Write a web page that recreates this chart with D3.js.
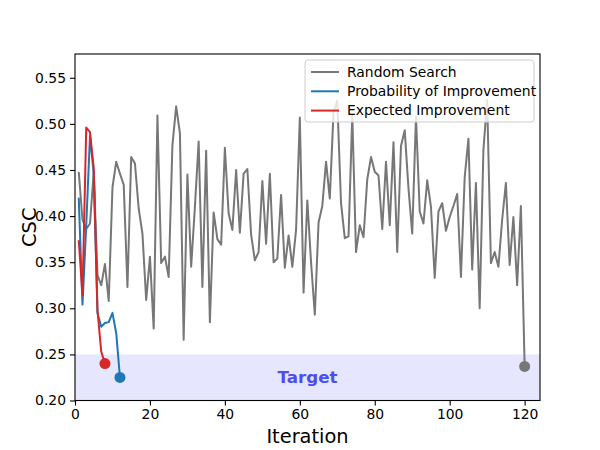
<!DOCTYPE html>
<html><head><meta charset="utf-8">
<script src="https://cdn.jsdelivr.net/npm/d3@7"></script>
<style>body{margin:0;background:#fff}svg{display:block}text{font-family:"DejaVu Sans",sans-serif}</style>
</head><body>
<svg id="c" width="600" height="450"></svg>
<script>
const randomSearch = [0.448,0.396,0.386,0.392,0.448,0.336,0.325,0.348,0.308,0.431,
0.459,0.446,0.434,0.323,0.464,0.457,0.408,0.381,0.309,0.356,
0.278,0.509,0.349,0.356,0.334,0.477,0.519,0.490,0.266,0.445,
0.345,0.410,0.481,0.323,0.471,0.285,0.404,0.375,0.369,0.474,
0.403,0.385,0.450,0.382,0.446,0.451,0.380,0.352,0.361,0.438,
0.370,0.446,0.350,0.354,0.423,0.344,0.379,0.345,0.385,0.507,
0.317,0.417,0.350,0.293,0.393,0.411,0.459,0.419,0.513,0.525,
0.414,0.376,0.378,0.510,0.361,0.390,0.377,0.440,0.464,0.448,
0.444,0.386,0.459,0.390,0.480,0.361,0.476,0.493,0.430,0.381,
0.508,0.405,0.392,0.439,0.410,0.333,0.405,0.414,0.384,0.399,
0.411,0.424,0.334,0.442,0.484,0.342,0.436,0.300,0.472,0.526,
0.349,0.361,0.345,0.396,0.436,0.347,0.399,0.325,0.411,0.237];
const probImprovement = [0.420,0.304,0.390,0.487,0.446,0.295,0.280,0.284,0.285,0.295,0.273,0.225];
const expImprovement = [0.374,0.314,0.496,0.491,0.452,0.298,0.253,0.240];
const seriesNames = ["Random Search","Probability of Improvement","Expected Improvement"];
const seriesColors = ["#777777","#1f77b4","#d62728"];
const xTicks = [0,20,40,60,80,100,120];
const yTicks = [0.20,0.25,0.30,0.35,0.40,0.45,0.50,0.55];
const targetBand = [0.20,0.25];
const targetLabel = "Target";
const xLabel = "Iteration", yLabel = "CSC";

const svg = d3.select("#c");
const L=75,R=540,T=54,B=400.5;
const x = d3.scaleLinear().domain([0,124.1]).range([L,R]);
const y = d3.scaleLinear().domain([0.2,0.5758]).range([B,T]);

const plot = svg.append("g");
plot.append("rect").attr("x",L).attr("width",R-L)
  .attr("y",y(targetBand[1])).attr("height",y(targetBand[0])-y(targetBand[1]))
  .attr("fill","rgb(230,230,255)");
plot.append("text").attr("x",(L+R)/2).attr("y",y((targetBand[0]+targetBand[1])/2))
  .attr("dy","0.35em").attr("text-anchor","middle").attr("font-weight","bold")
  .attr("font-size","16.7px").attr("fill","#4d4df0").text(targetLabel);

const all = [randomSearch, probImprovement, expImprovement];
const line = d3.line().x((d,i)=>x(i+1)).y(d=>y(d));
all.forEach((s,k)=>{
  plot.append("path").datum(s).attr("d",line).attr("fill","none")
    .attr("stroke",seriesColors[k]).attr("stroke-width",2).attr("stroke-linejoin","round");
});
all.forEach((s,k)=>{
  plot.append("circle").attr("cx",x(s.length)).attr("cy",y(s[s.length-1]))
    .attr("r",5.5).attr("fill",seriesColors[k]);
});

// axes
const ax = svg.append("g").attr("transform",`translate(0,${B})`)
  .call(d3.axisBottom(x).tickValues(xTicks).tickFormat(d3.format("d")).tickSize(5).tickPadding(4).tickSizeOuter(0));
const ay = svg.append("g").attr("transform",`translate(${L},0)`)
  .call(d3.axisLeft(y).tickValues(yTicks).tickFormat(d3.format(".2f")).tickSize(5).tickPadding(4).tickSizeOuter(0));
[ax,ay].forEach(a=>{
  a.select(".domain").remove();
  a.selectAll("text").attr("font-size","13.9px").attr("fill","#000").attr("font-family","DejaVu Sans");
  a.selectAll("line").attr("stroke","#000").attr("stroke-width",1.1);
});
svg.append("rect").attr("x",L).attr("y",T).attr("width",R-L).attr("height",B-T)
  .attr("fill","none").attr("stroke","#000").attr("stroke-width",1.1);

svg.append("text").attr("x",(L+R)/2).attr("y",443).attr("text-anchor","middle")
  .attr("font-size","19.4px").text(xLabel);
svg.append("text").attr("transform",`translate(36,${(T+B)/2}) rotate(-90)`)
  .attr("text-anchor","middle").attr("font-size","19.4px").text(yLabel);

// legend
const lg = svg.append("g");
lg.append("rect").attr("x",305).attr("y",60).attr("width",229).attr("height",62)
  .attr("rx",3).attr("fill","#fff").attr("fill-opacity",0.8).attr("stroke","#ccc").attr("stroke-width",1);
seriesNames.forEach((n,k)=>{
  const yy = 72 + k*19.3;
  lg.append("line").attr("x1",311).attr("x2",339).attr("y1",yy).attr("y2",yy)
    .attr("stroke",seriesColors[k]).attr("stroke-width",2);
  lg.append("text").attr("x",347).attr("y",yy).attr("dy","0.35em")
    .attr("font-size","13.9px").text(n);
});
</script>
</body></html>
